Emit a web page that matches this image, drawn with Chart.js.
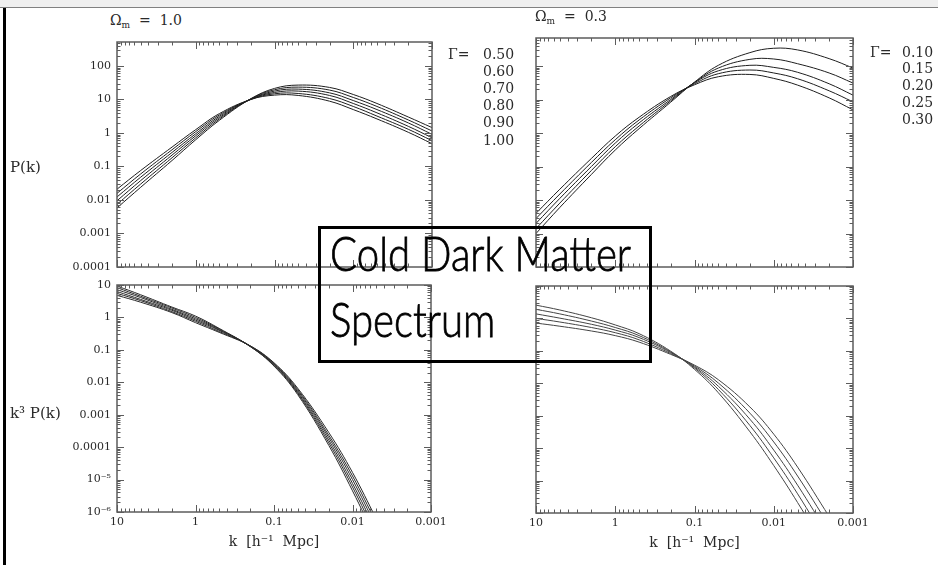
<!DOCTYPE html>
<html lang="en">
<head>
<meta charset="utf-8">
<title>Cold Dark Matter Spectrum</title>
<script src="https://cdn.jsdelivr.net/npm/chart.js@4.4.1/dist/chart.umd.min.js"></script>
<style>
  html, body { margin: 0; padding: 0; background: #fff; }
  body { position: relative; width: 938px; height: 565px; overflow: hidden; font-family: 'DejaVu Serif', serif; color: #2a2a2a; }
  .topbar { position: absolute; left: 0; top: 0; width: 938px; height: 7px; background: #efefef; border-bottom: 1px solid #808080; }
  .leftbar { position: absolute; left: 3px; top: 8px; width: 3px; height: 557px; background: #000; }
  canvas { position: absolute; }
  .lbl { position: absolute; white-space: pre; line-height: 1; }
  .omega { font-size: 14px; }
  .omega sub { font-size: 9px; vertical-align: -3px; }
  .ylab { font-size: 15px; }
  .cdm { position: absolute; left: 318px; top: 226px; width: 328px; height: 131px; border: 3px solid #000; background: transparent; z-index: 5; }
  .cdm span { position: absolute; left: 9px; font-family: Lato, 'Open Sans', sans-serif; font-weight: 300; font-size: 48px; line-height: 48px; white-space: nowrap; transform-origin: 0 0; color: #000; -webkit-text-stroke: 0.8px #000; }
</style>
</head>
<body>
<div class="topbar"></div>
<div class="leftbar"></div>

<canvas id="tl" width="530" height="250" style="left:0;top:30px"></canvas>
<canvas id="tr" width="478" height="250" style="left:460px;top:30px"></canvas>
<canvas id="bl" width="460" height="290" style="left:0;top:275px"></canvas>
<canvas id="br" width="478" height="290" style="left:460px;top:275px"></canvas>

<div class="lbl omega" style="left:110px;top:13px">Ω<sub>m</sub>  =  1.0</div>
<div class="lbl omega" style="left:535px;top:9px">Ω<sub>m</sub>  =  0.3</div>
<div class="lbl ylab" style="left:10px;top:160px">P(k)</div>
<div class="lbl ylab" style="left:10px;top:406px">k³ P(k)</div>

<div class="cdm">
  <span style="top:0px">Cold Dark Matter</span>
  <span style="top:66px">Spectrum</span>
</div>

<script>
// wavenumbers the curves are sampled at (h^-1 Mpc)
const kTop = [10, 5, 2, 1, 0.5, 0.2, 0.1, 0.05, 0.02, 0.01, 0.005, 0.002, 0.001];
const kBottomLeft = [10, 5, 2, 1, 0.5, 0.2, 0.1, 0.05, 0.02, 0.01, 0.005];
const kBottomRight = [10, 5, 2, 1, 0.5, 0.2, 0.1, 0.05, 0.02, 0.01, 0.005, 0.002];

// shape parameter of each curve
const gammaOmega1 = ['0.50', '0.60', '0.70', '0.80', '0.90', '1.00'];
const gammaOmega03 = ['0.10', '0.15', '0.20', '0.25', '0.30'];

// P(k), Omega_m = 1.0
const powerOmega1 = [
  [0.0058, 0.024, 0.151, 0.63, 2.40, 10.5, 21.4, 26.9, 22.9, 14.1, 7.6, 3.0, 1.45],
  [0.0074, 0.030, 0.182, 0.72, 2.63, 10.5, 19.5, 23.4, 19.1, 11.5, 6.2, 2.45, 1.15],
  [0.0095, 0.038, 0.219, 0.83, 2.88, 10.2, 17.8, 20.4, 15.8, 9.3, 5.0, 2.0, 0.91],
  [0.0123, 0.048, 0.263, 0.95, 3.16, 10.2, 16.2, 17.8, 13.2, 7.6, 4.0, 1.58, 0.72],
  [0.0158, 0.060, 0.316, 1.10, 3.47, 10.0, 14.8, 15.1, 10.7, 6.2, 3.2, 1.29, 0.59],
  [0.021, 0.076, 0.38, 1.26, 3.80, 10.0, 13.5, 13.2, 8.9, 5.0, 2.63, 1.05, 0.48]
];

// P(k), Omega_m = 0.3
const powerOmega03 = [
  [0.0010, 0.0060, 0.058, 0.31, 1.35, 8.3, 33.1, 105, 251, 339, 302, 166, 87],
  [0.0014, 0.0081, 0.076, 0.39, 1.62, 9.1, 32.4, 87, 158, 162, 117, 62, 31],
  [0.0020, 0.0112, 0.100, 0.50, 2.0, 10.0, 31.6, 72, 105, 91, 65, 29.5, 13.5],
  [0.0028, 0.0151, 0.132, 0.63, 2.45, 11.2, 29.5, 59, 76, 62, 41.7, 18.2, 8.5],
  [0.0040, 0.021, 0.174, 0.81, 2.95, 12.3, 27.5, 47.9, 56, 42.7, 26.9, 11.2, 4.9]
];

// k^3 P(k), Omega_m = 1.0
const k3PowerOmega1 = [
  [4.8, 2.95, 1.41, 0.69, 0.347, 0.132, 0.040, 0.0066, 2.8e-4, 1.66e-5, 6.3e-7],
  [5.5, 3.3, 1.51, 0.76, 0.37, 0.132, 0.038, 0.0060, 2.3e-4, 1.29e-5, 4.7e-7],
  [6.3, 3.6, 1.66, 0.83, 0.40, 0.129, 0.036, 0.0055, 1.95e-4, 1.0e-5, 3.5e-7],
  [7.2, 4.1, 1.78, 0.91, 0.42, 0.129, 0.035, 0.0050, 1.62e-4, 7.6e-6, 2.6e-7],
  [8.3, 4.5, 1.95, 1.0, 0.44, 0.126, 0.033, 0.0046, 1.35e-4, 5.9e-6, 1.9e-7],
  [9.3, 5.0, 2.09, 1.10, 0.46, 0.126, 0.0316, 0.0042, 1.12e-4, 4.5e-6, 1.4e-7]
];

// k^3 P(k), Omega_m = 0.3
const k3PowerOmega03 = [
  [0.72, 0.575, 0.41, 0.295, 0.186, 0.078, 0.0363, 0.0129, 0.00186, 2.7e-4, 2.6e-5, 7.8e-7],
  [1.0, 0.776, 0.525, 0.363, 0.219, 0.083, 0.0339, 0.0102, 0.0012, 1.55e-4, 1.38e-5, 4.0e-7],
  [1.38, 1.02, 0.66, 0.437, 0.257, 0.089, 0.0316, 0.0081, 7.8e-4, 8.7e-5, 7.2e-6, 2.0e-7],
  [1.91, 1.38, 0.83, 0.525, 0.295, 0.093, 0.0295, 0.00646, 5.0e-4, 5.0e-5, 3.9e-6, 1.0e-7],
  [2.57, 1.82, 1.05, 0.63, 0.339, 0.098, 0.0269, 0.0051, 3.2e-4, 2.9e-5, 2.1e-6, 5.2e-8]
];

// axis labels
const kTickValues = [10, 1, 0.1, 0.01, 0.001];
const kTickLabels = ['10', '1', '0.1', '0.01', '0.001'];
const pTickValues = [100, 10, 1, 0.1, 0.01, 0.001, 0.0001];
const pTickLabels = ['100', '10', '1', '0.1', '0.01', '0.001', '0.0001'];
const k3TickValues = [10, 1, 0.1, 0.01, 0.001, 0.0001, 1e-5, 1e-6];
const k3TickLabels = ['10', '1', '0.1', '0.01', '0.001', '0.0001', '10⁻⁵', '10⁻⁶'];

const tickFont = { family: 'DejaVu Serif', size: 11 };
const inkColor = '#2a2a2a';

// 1..9 x 10^n positions inside a log scale, flagged major at the decades
function logMarks(scale) {
  const marks = [];
  const lo = Math.floor(Math.log10(scale.min));
  const hi = Math.ceil(Math.log10(scale.max));
  for (let e = lo; e <= hi; e++) {
    for (let m = 1; m < 10; m++) {
      const v = m * Math.pow(10, e);
      if (v >= scale.min * 0.999 && v <= scale.max * 1.001) marks.push([v, m === 1]);
    }
  }
  return marks;
}

// box round the plot with inward ticks on all four sides
const boxTicks = {
  id: 'boxTicks',
  afterDatasetsDraw(chart) {
    const { ctx, chartArea: a, scales } = chart;
    ctx.save();
    ctx.strokeStyle = '#5c5c5c';
    ctx.lineWidth = 1;
    ctx.beginPath();
    logMarks(scales.x).forEach(([v, major]) => {
      const px = Math.round(scales.x.getPixelForValue(v)) + 0.5;
      const len = major ? 7 : 3.5;
      ctx.moveTo(px, a.bottom); ctx.lineTo(px, a.bottom - len);
      ctx.moveTo(px, a.top); ctx.lineTo(px, a.top + len);
    });
    logMarks(scales.y).forEach(([v, major]) => {
      const py = Math.round(scales.y.getPixelForValue(v)) + 0.5;
      const len = major ? 7 : 3.5;
      ctx.moveTo(a.left, py); ctx.lineTo(a.left + len, py);
      ctx.moveTo(a.right, py); ctx.lineTo(a.right - len, py);
    });
    ctx.stroke();
    ctx.lineWidth = 1.5;
    ctx.strokeRect(a.left, a.top, a.right - a.left, a.bottom - a.top);
    ctx.restore();
  }
};

// Gamma key beside the upper panels, one row per dataset
const gammaKey = {
  id: 'gammaKey',
  afterDraw(chart, args, o) {
    const { ctx, chartArea: a } = chart;
    ctx.save();
    ctx.font = '14px "DejaVu Serif"';
    ctx.fillStyle = inkColor;
    ctx.textBaseline = 'middle';
    ctx.fillText('Γ=', a.right + o.symbolX, a.top + o.firstY);
    chart.data.datasets.forEach((ds, i) => {
      ctx.fillText(ds.label, a.right + o.valueX, a.top + o.firstY + i * o.step);
    });
    ctx.restore();
  }
};

function fixBox(scale, width, height) {
  if (width !== undefined) scale.width = width;
  if (height !== undefined) scale.height = height;
  scale.paddingLeft = scale.paddingRight = scale.paddingTop = scale.paddingBottom = 0;
}

function buildPanel(id, p) {
  const datasets = p.series.map((values, i) => ({
    label: p.labels[i],
    data: p.k.map((k, j) => ({ x: k, y: values[j] })),
    borderColor: p.lineColor,
    borderWidth: 1,
    pointRadius: 0,
    tension: 0.4,
    clip: 0,
    fill: false
  }));

  return new Chart(document.getElementById(id), {
    type: 'line',
    data: { datasets },
    options: {
      responsive: false,
      animation: false,
      events: [],
      devicePixelRatio: 1,
      layout: { padding: p.padding },
      plugins: {
        legend: { display: false },
        tooltip: { enabled: false },
        gammaKey: p.key || false
      },
      scales: {
        x: {
          type: 'logarithmic',
          reverse: true,
          min: 0.001,
          max: 10,
          display: !!p.xHeight,
          afterBuildTicks: s => { s.ticks = kTickValues.map(v => ({ value: v })); },
          afterFit: s => fixBox(s, undefined, p.xHeight || 0),
          grid: { display: false, drawTicks: false },
          border: { display: false },
          ticks: {
            callback: (v, i) => kTickLabels[i],
            font: tickFont, color: inkColor, padding: 4,
            autoSkip: false, maxRotation: 0, minRotation: 0
          },
          title: {
            display: true,
            text: 'k  [h⁻¹  Mpc]',
            font: { family: 'DejaVu Serif', size: 14 },
            color: inkColor,
            padding: { top: 0, bottom: p.titlePad || 0 }
          }
        },
        y: {
          type: 'logarithmic',
          min: p.yMin,
          max: p.yMax,
          display: !!p.yWidth,
          afterBuildTicks: s => { s.ticks = p.yTicks.map(v => ({ value: v })); },
          afterFit: s => fixBox(s, p.yWidth || 0, undefined),
          grid: { display: false, drawTicks: false },
          border: { display: false },
          ticks: {
            callback: (v, i) => p.yLabels[i],
            font: tickFont, color: inkColor, padding: 6, autoSkip: false
          }
        }
      }
    },
    plugins: p.key ? [boxTicks, gammaKey] : [boxTicks]
  });
}

// Omega_m = 1.0, P(k)
buildPanel('tl', {
  k: kTop, series: powerOmega1, labels: gammaOmega1, lineColor: '#1e1e1e',
  yMin: 1e-4, yMax: 520, yTicks: pTickValues, yLabels: pTickLabels,
  yWidth: 117, padding: { left: 0, top: 12, right: 98, bottom: 13 },
  key: { symbolX: 16, valueX: 51, firstY: 13, step: 17.2 }
});

// Omega_m = 0.3, P(k)
buildPanel('tr', {
  k: kTop, series: powerOmega03, labels: gammaOmega03, lineColor: '#1e1e1e',
  yMin: 1e-4, yMax: 686, yTicks: pTickValues, yLabels: pTickLabels,
  padding: { left: 76, top: 8, right: 85, bottom: 13 },
  key: { symbolX: 17, valueX: 49, firstY: 15, step: 16.8 }
});

// Omega_m = 1.0, k^3 P(k)
buildPanel('bl', {
  k: kBottomLeft, series: k3PowerOmega1, labels: gammaOmega1, lineColor: '#2a2a2a',
  yMin: 1e-6, yMax: 10, yTicks: k3TickValues, yLabels: k3TickLabels,
  yWidth: 117, xHeight: 53, titlePad: 14,
  padding: { left: 0, top: 10, right: 29, bottom: 0 }
});

// Omega_m = 0.3, k^3 P(k)
buildPanel('br', {
  k: kBottomRight, series: k3PowerOmega03, labels: gammaOmega03, lineColor: '#444',
  yMin: 1e-6, yMax: 10, yTicks: k3TickValues, yLabels: k3TickLabels,
  xHeight: 52, titlePad: 13,
  padding: { left: 76, top: 11, right: 85, bottom: 0 }
});

// squeeze the caption lines to the box width
const captionLines = document.querySelectorAll('.cdm span');
const captionScale = 301 / captionLines[0].getBoundingClientRect().width;
captionLines.forEach(el => { el.style.transform = 'scaleX(' + captionScale + ')'; });
</script>
</body>
</html>
